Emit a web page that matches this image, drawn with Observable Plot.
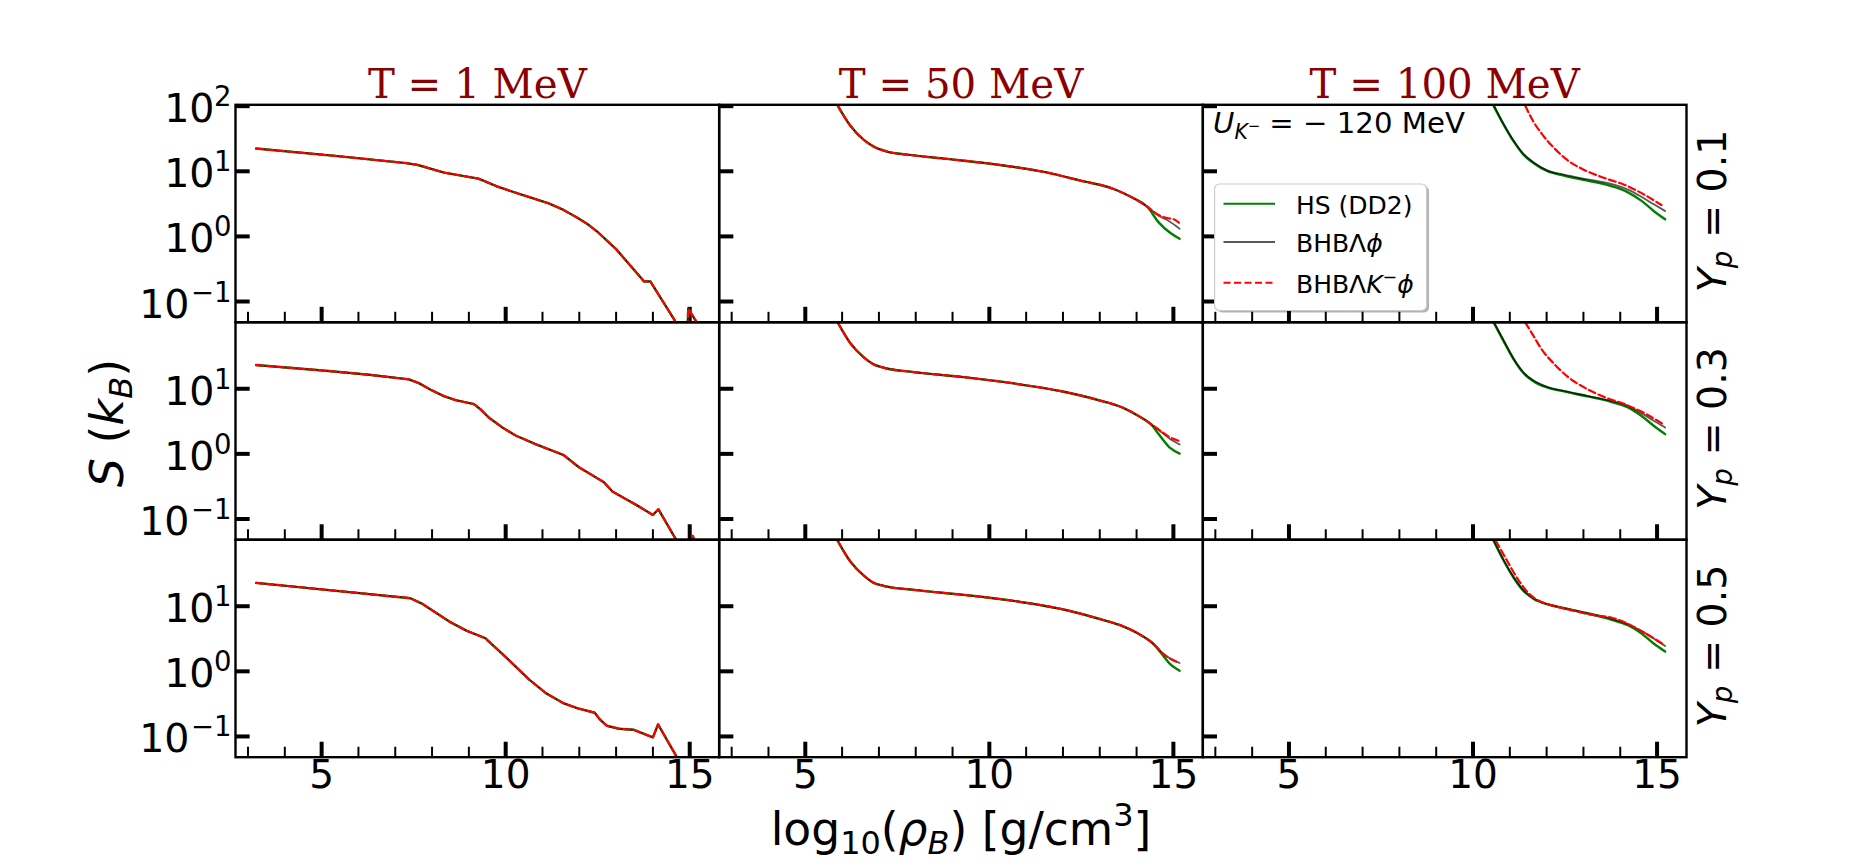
<!DOCTYPE html>
<html>
<head>
<meta charset="utf-8">
<script src="https://cdn.jsdelivr.net/npm/d3@7"></script>
<script src="https://cdn.jsdelivr.net/npm/@observablehq/plot@0.6"></script>
<style>
  body { margin: 0; background: white; }
  svg { display: block; }
</style>
</head>
<body>
<div id="chart"></div>
<script>
const temps = ["T = 1 MeV", "T = 50 MeV", "T = 100 MeV"];
const yps = [0.1, 0.3, 0.5];
const xMajor = [5, 10, 15];
const xMinor = [3, 4, 6, 7, 8, 9, 11, 12, 13, 14];
const yTicks = [10, 1, 0.1];

// T = 1 MeV, the three models lie on top of each other
const t1y1Rho = [3.22, 5.37, 7.3, 7.61, 8.33, 9.26, 9.78, 10.24, 11.17, 11.56, 11.96, 12.22, 12.48, 13.0, 13.76, 13.93, 14.59, 14.75, 14.92, 14.96, 15.18, 15.22];
const t1y1S = [1.349, 1.236, 1.125, 1.097, 0.979, 0.887, 0.764, 0.677, 0.508, 0.41, 0.282, 0.19, 0.077, -0.195, -0.692, -0.692, -1.287, -1.5, -1.7, -1.108, -1.31, -1.4];
const t1y3Rho = [3.22, 5.2, 6.29, 7.37, 7.64, 8.0, 8.32, 8.64, 9.14, 9.32, 9.55, 9.91, 10.27, 10.81, 11.58, 11.99, 12.67, 12.9, 13.26, 13.58, 14.0, 14.15, 14.62, 14.85, 15.02, 15.08, 15.2];
const t1y3S = [1.364, 1.272, 1.215, 1.144, 1.087, 0.974, 0.887, 0.826, 0.764, 0.682, 0.554, 0.405, 0.282, 0.149, -0.021, -0.205, -0.436, -0.579, -0.692, -0.795, -0.938, -0.851, -1.308, -1.6, -1.7, -1.26, -1.4];
const t1y5Rho = [3.22, 7.41, 7.74, 8.47, 8.93, 9.45, 9.98, 10.64, 11.1, 11.56, 11.96, 12.42, 12.55, 12.75, 13.08, 13.47, 14.0, 14.14, 14.63, 14.85, 15.2];
const t1y5S = [1.359, 1.123, 1.036, 0.764, 0.626, 0.508, 0.231, -0.128, -0.338, -0.487, -0.569, -0.636, -0.733, -0.836, -0.882, -0.897, -1.015, -0.815, -1.297, -1.6, -1.9];

// T = 50 MeV, shared part then one tail per model
const t50y1Rho = [5.88, 6.22, 6.59, 6.86, 7.22, 7.77, 8.85, 10.21, 11.48, 12.48, 13.38, 13.92, 14.29];
const t50y1S = [2.01, 1.703, 1.482, 1.379, 1.303, 1.256, 1.19, 1.103, 0.99, 0.856, 0.728, 0.585, 0.456];
const t50y1HsRho = [14.6, 14.92, 15.17], t50y1HsS = [0.215, 0.051, -0.036];
const t50y1BhbRho = [14.6, 14.83, 15.17], t50y1BhbS = [0.318, 0.251, 0.118];
const t50y1KRho = [14.6, 14.83, 15.01, 15.15], t50y1KS = [0.328, 0.282, 0.262, 0.21];

const t50y3Rho = [5.88, 6.22, 6.59, 6.86, 7.13, 7.95, 9.31, 10.66, 12.02, 12.93, 13.65, 14.11, 14.38];
const t50y3S = [2.02, 1.703, 1.482, 1.374, 1.323, 1.256, 1.179, 1.082, 0.954, 0.831, 0.703, 0.564, 0.462];
const t50y3HsRho = [14.65, 14.92, 15.17], t50y3HsS = [0.267, 0.087, 0.005];
const t50y3BhbRho = [14.65, 14.92, 15.17], t50y3BhbS = [0.344, 0.226, 0.144];
const t50y3KRho = [14.65, 14.88, 15.15], t50y3KS = [0.354, 0.262, 0.2];

const t50y5Rho = [5.88, 6.22, 6.59, 6.86, 7.13, 7.95, 9.31, 10.66, 12.02, 12.93, 13.65, 14.11, 14.47];
const t50y5S = [2.005, 1.69, 1.47, 1.359, 1.313, 1.251, 1.174, 1.082, 0.949, 0.815, 0.687, 0.559, 0.415];
const t50y5HsRho = [14.65, 14.92, 15.17], t50y5HsS = [0.292, 0.108, 0.01];
const t50y5BhbRho = [14.74, 15.17], t50y5BhbS = [0.262, 0.128];
const t50y5KRho = [14.74, 15.17], t50y5KS = [0.262, 0.128];

// T = 100 MeV
const t100Rho = [10.56, 10.82, 11.1, 11.37, 11.65, 12.01, 12.47, 13.11, 13.75, 14.21, 14.57, 14.9, 15.22];
const t100y1Hs = [2.005, 1.728, 1.462, 1.256, 1.123, 1.005, 0.933, 0.856, 0.774, 0.677, 0.549, 0.395, 0.262];
const t100y1Bhb = [2.02, 1.74, 1.474, 1.268, 1.135, 1.015, 0.948, 0.877, 0.805, 0.718, 0.61, 0.497, 0.39];
const t100y1KRho = [11.42, 11.65, 11.87, 12.2, 12.56, 13.02, 13.57, 14.12, 14.67, 15.12];
const t100y1K = [2.005, 1.754, 1.574, 1.359, 1.174, 1.021, 0.897, 0.79, 0.636, 0.482];

const t100y3Hs = [2.02, 1.744, 1.456, 1.241, 1.113, 1.021, 0.959, 0.882, 0.8, 0.713, 0.585, 0.436, 0.303];
const t100y3Bhb = [2.03, 1.756, 1.468, 1.253, 1.125, 1.03, 0.967, 0.892, 0.815, 0.738, 0.626, 0.513, 0.405];
const t100y3KRho = [11.42, 11.65, 11.87, 12.2, 12.56, 13.02, 13.57, 14.12, 14.67, 15.17];
const t100y3K = [2.02, 1.805, 1.6, 1.385, 1.19, 1.021, 0.872, 0.764, 0.621, 0.456];

const t100y5Hs = [2.005, 1.713, 1.441, 1.236, 1.113, 1.031, 0.969, 0.887, 0.795, 0.708, 0.585, 0.431, 0.303];
const t100y5Bhb = [2.015, 1.723, 1.451, 1.246, 1.12, 1.036, 0.975, 0.897, 0.81, 0.723, 0.621, 0.508, 0.39];
const t100y5KRho = [10.62, 10.91, 11.23, 11.51, 11.74, 12.1, 12.65, 13.29, 13.75, 14.12, 14.57, 15.17];
const t100y5K = [2.005, 1.713, 1.405, 1.2, 1.097, 1.021, 0.944, 0.862, 0.826, 0.754, 0.621, 0.415];

// [temp index, yp, rho, log10 S]
const hsCurves = [
  [0, 0.1, t1y1Rho, t1y1S], [0, 0.3, t1y3Rho, t1y3S], [0, 0.5, t1y5Rho, t1y5S],
  [1, 0.1, t50y1Rho.concat(t50y1HsRho), t50y1S.concat(t50y1HsS)],
  [1, 0.3, t50y3Rho.concat(t50y3HsRho), t50y3S.concat(t50y3HsS)],
  [1, 0.5, t50y5Rho.concat(t50y5HsRho), t50y5S.concat(t50y5HsS)],
  [2, 0.1, t100Rho, t100y1Hs], [2, 0.3, t100Rho, t100y3Hs], [2, 0.5, t100Rho, t100y5Hs]
];
const bhbCurves = [
  [0, 0.1, t1y1Rho, t1y1S], [0, 0.3, t1y3Rho, t1y3S], [0, 0.5, t1y5Rho, t1y5S],
  [1, 0.1, t50y1Rho.concat(t50y1BhbRho), t50y1S.concat(t50y1BhbS)],
  [1, 0.3, t50y3Rho.concat(t50y3BhbRho), t50y3S.concat(t50y3BhbS)],
  [1, 0.5, t50y5Rho.concat(t50y5BhbRho), t50y5S.concat(t50y5BhbS)],
  [2, 0.1, t100Rho, t100y1Bhb], [2, 0.3, t100Rho, t100y3Bhb], [2, 0.5, t100Rho, t100y5Bhb]
];
const kaonCurves = [
  [0, 0.1, t1y1Rho, t1y1S], [0, 0.3, t1y3Rho, t1y3S], [0, 0.5, t1y5Rho, t1y5S],
  [1, 0.1, t50y1Rho.concat(t50y1KRho), t50y1S.concat(t50y1KS)],
  [1, 0.3, t50y3Rho.concat(t50y3KRho), t50y3S.concat(t50y3KS)],
  [1, 0.5, t50y5Rho.concat(t50y5KRho), t50y5S.concat(t50y5KS)],
  [2, 0.1, t100y1KRho, t100y1K], [2, 0.3, t100y3KRho, t100y3K], [2, 0.5, t100y5KRho, t100y5K]
];

const toRows = curves => curves.flatMap(([t, yp, rho, s]) =>
  rho.map((r, i) => ({ temp: temps[t], yp, rho: r, S: 10 ** s[i], key: t + "-" + yp })));

// left column has kinks, the other two are smooth
const curveLine = (curves, opts) => [
  Plot.line(toRows(curves.filter(c => c[0] == 0)), {
    x: "rho", y: "S", fx: "temp", fy: "yp", z: "key", clip: true, ...opts
  }),
  Plot.line(toRows(curves.filter(c => c[0] != 0)), {
    x: "rho", y: "S", fx: "temp", fy: "yp", z: "key", curve: "monotone-x", clip: true, ...opts
  })
];

// y labels only in the left column, 10^2 only on the top row
const yLabelRows = [
  { yp: 0.1, v: 100, e: "2" }, { yp: 0.1, v: 10, e: "1" }, { yp: 0.1, v: 1, e: "0" }, { yp: 0.1, v: 0.1, e: "\u22121" },
  { yp: 0.3, v: 10, e: "1" }, { yp: 0.3, v: 1, e: "0" }, { yp: 0.3, v: 0.1, e: "\u22121" },
  { yp: 0.5, v: 10, e: "1" }, { yp: 0.5, v: 1, e: "0" }, { yp: 0.5, v: 0.1, e: "\u22121" }
];
const labelOpts = { fx: () => temps[0], fy: "yp", y: "v", frameAnchor: "left", textAnchor: "end", fill: "black", lineAnchor: "bottom" };

const chart = Plot.plot({
  width: 1872,
  height: 864,
  marginLeft: 235,
  marginRight: 186,
  marginTop: 104.3,
  marginBottom: 107.3,
  style: { fontFamily: "DejaVu Sans", background: "white", color: "black" },
  x: { domain: [2.66, 15.8], axis: null },
  y: { type: "log", domain: [0.048, 105], axis: null },
  fx: { domain: temps, padding: 0, round: false, axis: null },
  fy: { domain: yps, padding: 0, round: false, axis: null },
  marks: [
    Plot.tickX(xMinor, { x: d => d, insetTop: 207.5, strokeWidth: 2, stroke: "black" }),
    Plot.tickX(xMajor, { x: d => d, insetTop: 202.5, strokeWidth: 4, stroke: "black" }),
    Plot.tickY(yTicks, { y: d => d, insetRight: 469, strokeWidth: 4, stroke: "black" }),
    Plot.tickY([100], { y: d => d, fy: () => yps[0], insetRight: 469, strokeWidth: 4, stroke: "black" }),

    curveLine(hsCurves, { stroke: "green", strokeWidth: 2.4 }),
    curveLine(bhbCurves, { stroke: "black", strokeOpacity: 0.65, strokeWidth: 1.8 }),
    curveLine(kaonCurves, { stroke: "red", strokeWidth: 2.2, strokeDasharray: "7,3.5" }),

    Plot.frame({ stroke: "black", strokeWidth: 2.4 }),

    Plot.axisFx({ anchor: "top", label: null, tickSize: 0, tickPadding: 7, fontSize: 40.3, fontFamily: "DejaVu Serif", fill: "#8b0000" }),
    Plot.axisX(xMajor, { anchor: "bottom", label: null, tickSize: 0, tickPadding: 3, fontSize: 39, fill: "black" }),

    Plot.text(yLabelRows.filter(d => d.v > 0.1), { ...labelOpts, text: () => "10", fontSize: 39.5, dx: -21, dy: 16 }),
    Plot.text(yLabelRows.filter(d => d.v <= 0.1), { ...labelOpts, text: () => "10", fontSize: 39.5, dx: -46, dy: 16 }),
    Plot.text(yLabelRows, { ...labelOpts, text: "e", fontSize: 27.5, dx: -4, dy: 0 })
  ]
});

document.getElementById("chart").append(chart);

// labels with sub- and superscripts are added to the svg as text
const svg = d3.select(chart);

function mathText(parent, x, y, rotate, size, parts, anchor) {
  const t = parent.append("text")
    .attr("transform", `translate(${x},${y}) rotate(${rotate})`)
    .attr("font-family", "DejaVu Sans")
    .attr("font-size", size)
    .attr("text-anchor", anchor || "middle")
    .attr("fill", "black")
    .style("white-space", "pre");
  let shift = 0;
  parts.forEach(p => {
    const s = p.scale || (p.sub || p.sup ? 0.7 : 1);
    const target = (p.shift != null ? p.shift : p.sub ? 0.2 : p.sup ? -0.42 : 0) * size;
    t.append("tspan")
      .attr("dy", target - shift)
      .attr("font-size", size * s)
      .attr("font-style", p.i ? "italic" : "normal")
      .text(p.t);
    shift = target;
  });
  return t;
}

mathText(svg, 123, 423, -90, 46, [{ t: "S", i: true }, { t: " (" }, { t: "k", i: true }, { t: "B", i: true, sub: true }, { t: ")" }]);
mathText(svg, 961, 845, 0, 45.6, [{ t: "log" }, { t: "10", sub: true }, { t: "(" }, { t: "\u03C1", i: true }, { t: "B", i: true, sub: true }, { t: ") [g/cm" }, { t: "3", sup: true }, { t: "]" }]);

const ypLabels = ["0.1", "0.3", "0.5"];
ypLabels.forEach((v, i) => {
  mathText(svg, 1726, 211 + i * 217.5, -90, 39.5, [{ t: "Y", i: true }, { t: "p", i: true, sub: true, shift: 0.15 }, { t: " = " + v }]);
});

mathText(svg, 1213, 132.7, 0, 29.2, [
  { t: "U", i: true }, { t: "K", i: true, sub: true }, { t: "\u2212", scale: 0.5, shift: -0.05 }, { t: " = \u2212 120 MeV" }
], "start");

// legend
const legend = svg.append("g");
legend.append("rect").attr("x", 1217).attr("y", 186).attr("width", 212).attr("height", 126.5).attr("rx", 5).attr("fill", "black").attr("opacity", 0.3);
legend.append("rect").attr("x", 1214.6).attr("y", 184).attr("width", 212).attr("height", 126.5).attr("rx", 5).attr("fill", "white").attr("stroke", "#ccc").attr("stroke-width", 1.2);
const legendLine = (y, stroke, extra) => {
  const l = legend.append("line").attr("x1", 1223.5).attr("x2", 1275).attr("y1", y).attr("y2", y).attr("stroke", stroke).attr("stroke-width", 2);
  Object.entries(extra || {}).forEach(([k, v]) => l.attr(k, v));
};
legendLine(203.7, "green");
legendLine(242, "black", { "stroke-opacity": 0.65 });
legendLine(282.7, "red", { "stroke-dasharray": "7,3.5" });
mathText(legend, 1296, 214, 0, 25, [{ t: "HS (DD2)" }], "start");
mathText(legend, 1296, 252, 0, 25, [{ t: "BHB\u039B" }, { t: "\u03D5", i: true }], "start");
mathText(legend, 1296, 293, 0, 25, [{ t: "BHB\u039B" }, { t: "K", i: true }, { t: "\u2212", sup: true }, { t: "\u03D5", i: true }], "start");
</script>
</body>
</html>
